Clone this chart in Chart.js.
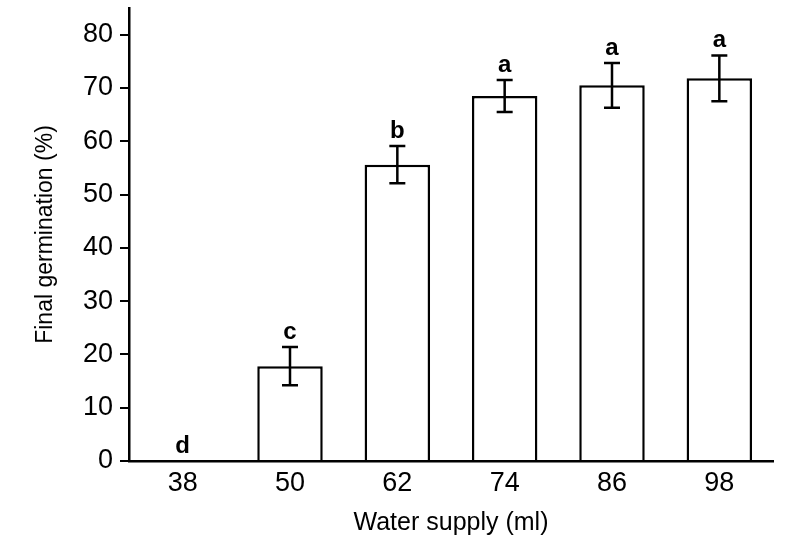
<!DOCTYPE html>
<html>
<head>
<meta charset="utf-8">
<script src="https://cdn.jsdelivr.net/npm/chart.js@4/dist/chart.umd.min.js"></script>
<style>
  html, body { margin: 0; padding: 0; background: #fff; }
  #wrap { width: 792px; height: 559px; }
</style>
</head>
<body>
<div id="wrap"><canvas id="chart"></canvas></div>
<script>
// water supply levels (ml)
const categories = ["38", "50", "62", "74", "86", "98"];
// final germination (%) and its error
const germination = [0, 17.8, 55.6, 68.5, 70.5, 71.8];
const errors = [0, 3.6, 3.5, 3.0, 4.2, 4.3];
const letters = ["d", "c", "b", "a", "a", "a"];
const yTicks = [0, 10, 20, 30, 40, 50, 60, 70, 80];

const FONT = "'Liberation Sans', Arial, sans-serif";

// error bars + significance letters, drawn after the bars
const errorBarPlugin = {
  id: "errorBars",
  afterDatasetsDraw(chart) {
    const ctx = chart.ctx;
    const meta = chart.getDatasetMeta(0);
    const y = chart.scales.y;
    ctx.save();
    ctx.strokeStyle = "#000";
    ctx.lineWidth = 2.5;
    ctx.fillStyle = "#000";
    ctx.font = "bold 24px " + FONT;
    ctx.textAlign = "center";
    ctx.textBaseline = "alphabetic";
    meta.data.forEach((bar, i) => {
      const v = germination[i];
      const e = errors[i];
      const x = bar.x;
      const top = y.getPixelForValue(v + e);
      if (e > 0) {
        const bottom = y.getPixelForValue(v - e);
        ctx.beginPath();
        ctx.moveTo(x, top);
        ctx.lineTo(x, bottom);
        ctx.moveTo(x - 8, top);
        ctx.lineTo(x + 8, top);
        ctx.moveTo(x - 8, bottom);
        ctx.lineTo(x + 8, bottom);
        ctx.stroke();
      }
      ctx.fillText(letters[i], x, top - 8);
    });
    ctx.restore();
  }
};

const ctx = document.getElementById("chart").getContext("2d");
new Chart(ctx, {
  type: "bar",
  data: {
    labels: categories,
    datasets: [{
      data: germination,
      backgroundColor: "#fff",
      borderColor: "#000",
      borderWidth: 2.5,
      barPercentage: 0.61,
      categoryPercentage: 1.0,
    }],
  },
  options: {
    responsive: true,
    maintainAspectRatio: false,
    animation: false,
    layout: { padding: { top: 8, right: 19, bottom: 0, left: 0 } },
    plugins: {
      legend: { display: false },
      tooltip: { enabled: false },
    },
    scales: {
      x: {
        grid: { display: true, drawOnChartArea: false, drawTicks: false },
        border: { display: true, color: "#000", width: 2.5 },
        ticks: { color: "#000", padding: 6, font: { family: FONT, size: 27 } },
        title: {
          display: true,
          text: "Water supply (ml)",
          color: "#000",
          font: { family: FONT, size: 25 },
          padding: { top: 0, bottom: 21 },
        },
        afterFit: (s) => { s.height = 98; s.paddingLeft = 0; s.paddingRight = 0; },
      },
      y: {
        min: 0,
        max: 85,
        grid: { display: true, drawOnChartArea: false, drawTicks: true, tickLength: 9, color: "#000", lineWidth: 2 },
        border: { display: true, color: "#000", width: 2.5 },
        ticks: { color: "#000", padding: 7, stepSize: 10, font: { family: FONT, size: 27 } },
        afterBuildTicks: (s) => { s.ticks = yTicks.map(v => ({ value: v })); },
        title: {
          display: true,
          text: "Final germination (%)",
          color: "#000",
          font: { family: FONT, size: 23 },
          padding: { top: 32, bottom: 0 },
        },
        afterFit: (s) => { s.width = 129; s.paddingTop = 0; s.paddingBottom = 0; },
      },
    },
  },
  plugins: [errorBarPlugin],
});
</script>
</body>
</html>
